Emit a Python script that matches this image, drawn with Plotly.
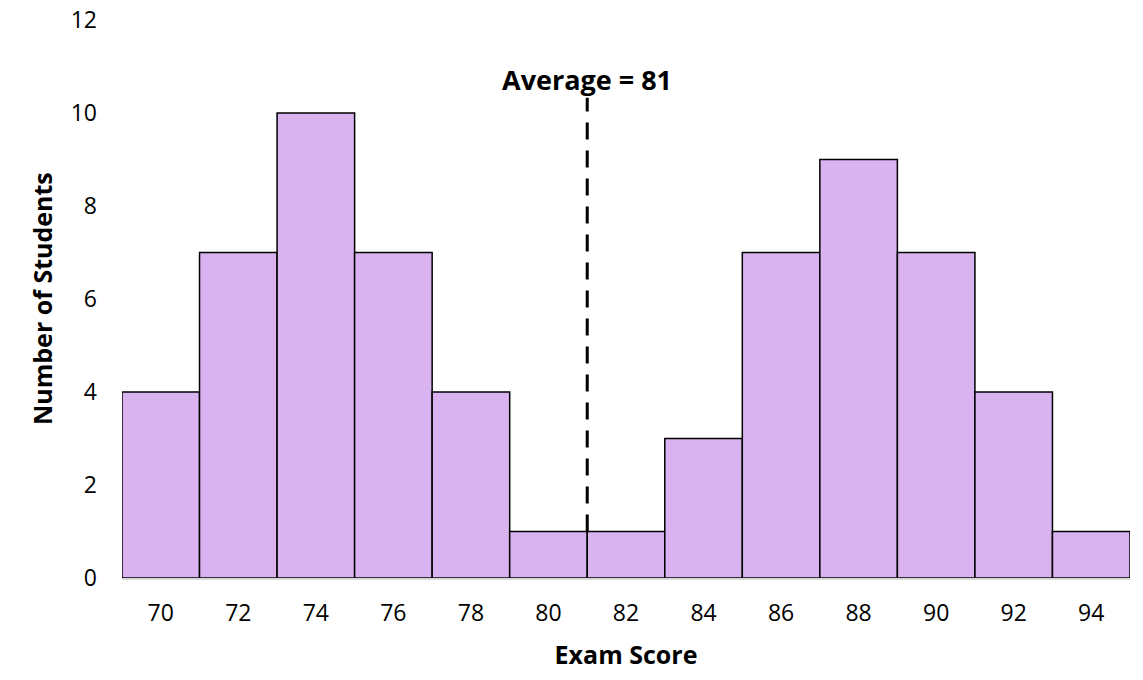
import plotly.graph_objects as go

scores = [70, 72, 74, 76, 78, 80, 82, 84, 86, 88, 90, 92, 94]
counts = [4, 7, 10, 7, 4, 1, 1, 3, 7, 9, 7, 4, 1]
average = 81
y_ticks = [0, 2, 4, 6, 8, 10, 12]

FONT = "Open Sans"

fig = go.Figure()
fig.add_trace(go.Bar(
    x=scores, y=counts, width=2,
    marker=dict(color="#d9b3f0", line=dict(color="black", width=1.5)),
))

fig.add_shape(type="line", x0=average, x1=average, y0=1, y1=10.33,
              xref="x", yref="y",
              line=dict(color="black", width=3, dash="17px,11px"))
fig.add_annotation(x=average, y=10.73, xref="x", yref="y", text="<b>Average = 81</b>",
                   showarrow=False, font=dict(family=FONT, size=27, color="black"))
fig.add_annotation(x=42, y=0.5, xref="paper", yref="paper", xanchor="center", yanchor="middle",
                   text="<b>Number of Students</b>", textangle=-90, showarrow=False,
                   font=dict(family=FONT, size=25, color="black"))
fig.update_annotations(selector=dict(textangle=-90), x=(42 - 122) / (1143 - 122 - 13))

fig.update_layout(
    width=1143, height=680,
    margin=dict(l=122, r=13, t=20, b=102),
    plot_bgcolor="white", paper_bgcolor="white",
    showlegend=False,
    font=dict(family=FONT, size=23, color="black"),
    xaxis=dict(range=[69, 95], tickvals=scores, ticks="", showgrid=False,
               showline=True, linecolor="#d9d9d9", linewidth=2,
               ticklabelstandoff=13, automargin=False,
               title=dict(text="<b>Exam Score</b>", font=dict(size=25), standoff=20),
               zeroline=False),
    yaxis=dict(range=[0, 12], tickvals=y_ticks, ticks="", showgrid=False,
               showline=False, zeroline=False, ticklabelstandoff=24, automargin=False),
)

fig.write_html("out.html")
